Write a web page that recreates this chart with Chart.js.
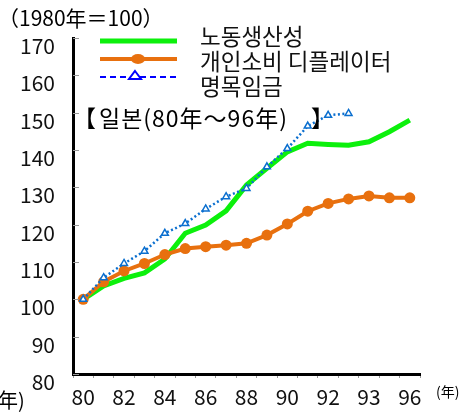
<!DOCTYPE html>
<html>
<head>
<meta charset="utf-8">
<script src="https://cdn.jsdelivr.net/npm/chart.js@4"></script>
<style>
  html, body { margin: 0; padding: 0; background: #fff; }
  #wrap { width: 462px; height: 419px; }
</style>
</head>
<body>
<div id="wrap"><canvas id="chart" width="462" height="419"></canvas></div>
<script>
const years = ['1980','1981','1982','1983','1984','1985','1986','1987','1988','1989','1990','1991','1992','1993','1994','1995','1996'];
const xTickLabels = ['80','','82','','84','','86','','88','','90','','92','','93','','96'];
const seriesNames = ['노동생산성', '개인소비 디플레이터', '명목임금'];
const productivity = [100, 103.6, 105.6, 107.1, 110.8, 117.7, 119.9, 123.7, 130.6, 135.1, 139.5, 141.8, 141.5, 141.3, 142.2, 144.9, 148.0];
const deflator = [100, 104.7, 107.6, 109.6, 112.0, 113.6, 114.1, 114.5, 115.0, 117.2, 120.2, 123.6, 125.7, 126.9, 127.7, 127.2, 127.2];
const wages = [100, 105.8, 109.6, 112.9, 117.7, 120.3, 124.2, 127.5, 129.7, 135.5, 140.4, 146.4, 149.3, 149.8, null, null, null];

const GREEN = '#0cf00c', ORANGE = '#e8700e', BLUE = '#0b6fcf';
const FONT = '"Noto Sans CJK KR", "Noto Sans CJK JP", sans-serif';

// texts, legend and inner y ticks
const extras = {
  id: 'extras',
  afterDraw(chart) {
    const ctx = chart.ctx, area = chart.chartArea, y = chart.scales.y;
    ctx.save();

    // small ticks pointing into the plot
    ctx.strokeStyle = '#999';
    ctx.lineWidth = 1;
    y.ticks.forEach(t => {
      const py = Math.round(y.getPixelForValue(t.value)) + 0.5;
      ctx.beginPath();
      ctx.moveTo(area.left, py);
      ctx.lineTo(area.left + 6, py);
      ctx.stroke();
    });

    ctx.fillStyle = '#000';
    ctx.textBaseline = 'middle';
    ctx.textAlign = 'left';
    ctx.font = '21px ' + FONT;
    ctx.fillText('（1980年＝100）', -2, 18);
    ctx.font = '23px ' + FONT;
    ctx.fillText('【', 73, 118);
    ctx.letterSpacing = '1px';
    ctx.fillText('일본(80年～96年)', 99, 118);
    ctx.letterSpacing = '0px';
    ctx.fillText('】', 311, 118);
    ctx.font = '20px ' + FONT;
    ctx.fillText('年)', -2, 400);
    ctx.font = '14px ' + FONT;
    ctx.fillText('(年)', 436, 392);

    // legend
    ctx.lineCap = 'butt';
    ctx.strokeStyle = GREEN; ctx.lineWidth = 5;
    ctx.beginPath(); ctx.moveTo(100, 41); ctx.lineTo(177, 41); ctx.stroke();
    ctx.strokeStyle = ORANGE; ctx.lineWidth = 4;
    ctx.beginPath(); ctx.moveTo(100, 59); ctx.lineTo(177, 59); ctx.stroke();
    ctx.fillStyle = ORANGE;
    ctx.beginPath(); ctx.ellipse(138, 59, 7, 5, 0, 0, Math.PI * 2); ctx.fill();
    ctx.strokeStyle = '#0000ff'; ctx.lineWidth = 2; ctx.setLineDash([6, 4]);
    ctx.beginPath(); ctx.moveTo(100, 77); ctx.lineTo(177, 77); ctx.stroke();
    ctx.setLineDash([]);
    ctx.fillStyle = '#fff';
    ctx.beginPath(); ctx.moveTo(135, 71); ctx.lineTo(141, 79); ctx.lineTo(129, 79); ctx.closePath();
    ctx.fill(); ctx.stroke();

    ctx.fillStyle = '#111';
    ctx.font = '22.5px ' + FONT;
    seriesNames.forEach((n, i) => ctx.fillText(n, 200, 36 + i * 25));
    ctx.restore();
  }
};

new Chart(document.getElementById('chart'), {
  type: 'line',
  data: {
    labels: years,
    datasets: [
      { label: seriesNames[0], data: productivity, borderColor: GREEN, borderWidth: 5, pointRadius: 0, order: 3 },
      { label: seriesNames[1], data: deflator, borderColor: ORANGE, backgroundColor: ORANGE, borderWidth: 4,
        pointRadius: 5.5, pointBorderWidth: 0, order: 2 },
      { label: seriesNames[2], data: wages, borderColor: BLUE, borderWidth: 2.5, borderDash: [2, 2.5],
        pointStyle: 'triangle', pointRadius: 4, pointBackgroundColor: '#fff', pointBorderColor: BLUE,
        pointBorderWidth: 1.5, order: 1 }
    ]
  },
  options: {
    responsive: false,
    animation: false,
    devicePixelRatio: 1,
    layout: { padding: { top: 38, right: 42, left: 0, bottom: 0 } },
    plugins: { legend: { display: false }, tooltip: { enabled: false } },
    scales: {
      x: {
        offset: true,
        grid: { display: true, offset: true, drawOnChartArea: false, drawTicks: true, tickLength: 4, tickColor: '#999' },
        border: { display: true, color: '#000', width: 3 },
        ticks: {
          autoSkip: false, maxRotation: 0, padding: 6, color: '#111',
          font: { family: FONT, size: 21 },
          callback: (v, i) => xTickLabels[i]
        },
        afterFit: s => { s.height = 45; }
      },
      y: {
        min: 80, max: 170,
        grid: { display: false },
        border: { display: true, color: '#000', width: 3 },
        ticks: { stepSize: 10, padding: 10, labelOffset: 8, color: '#111', font: { family: FONT, size: 21 } },
        afterFit: s => { s.width = 73; }
      }
    }
  },
  plugins: [extras]
});
</script>
</body>
</html>
